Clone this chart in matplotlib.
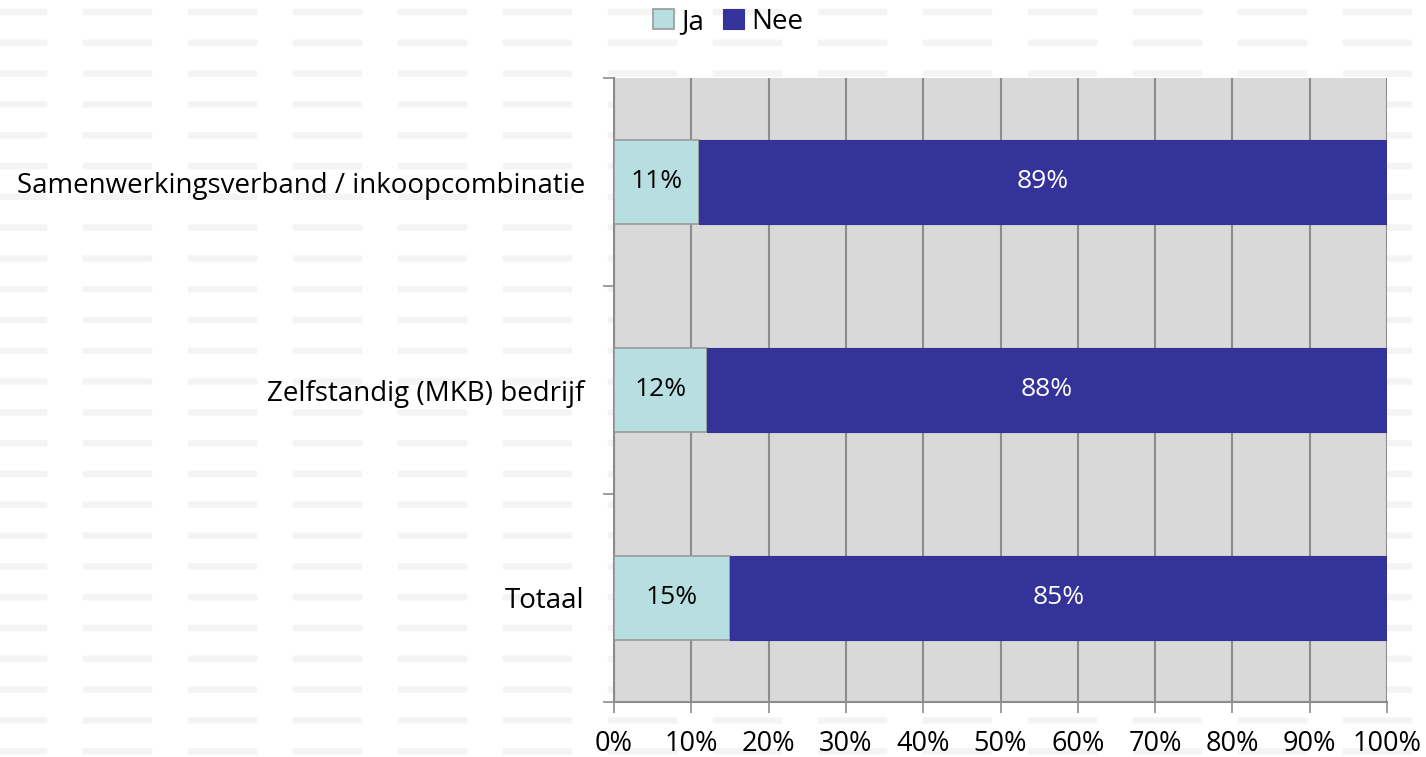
import matplotlib
matplotlib.use("Agg")
import matplotlib.pyplot as plt
from matplotlib.patches import FancyBboxPatch
import numpy as np

categories = ["Samenwerkingsverband / inkoopcombinatie", "Zelfstandig (MKB) bedrijf", "Totaal"]
ja = [11, 12, 15]
nee = [89, 88, 85]
series_names = ["Ja", "Nee"]
x_ticks = [0, 10, 20, 30, 40, 50, 60, 70, 80, 90, 100]

plt.rcParams["font.family"] = ["Open Sans", "DejaVu Sans"]

W, H = 1426, 757
fig = plt.figure(figsize=(W / 100, H / 100), dpi=100)
fig.patch.set_facecolor("white")

# textured backdrop of faint horizontal dashes
bg = fig.add_axes([0, 0, 1, 1], zorder=0)
bg.set_xlim(0, W)
bg.set_ylim(H, 0)
bg.axis("off")
for yc in np.arange(12, H, 30.8):
    for x0 in np.arange(-23, W, 105):
        bg.add_patch(FancyBboxPatch((x0 + 2, yc - 2), 67, 4,
                                    boxstyle="round,pad=1.2",
                                    facecolor="#f4f4f4", edgecolor="none"))

ax = fig.add_axes([614 / W, 1 - 702 / H, (1387 - 614) / W, (702 - 78) / H], zorder=1)
ax.set_facecolor("#d9d9d9")

pos = np.arange(len(categories)) + 0.5
h = 0.4
b1 = ax.barh(pos, ja, height=h, color="#b7dee1", edgecolor="#9a9a9a", linewidth=1.2,
             label=series_names[0], zorder=3)
b2 = ax.barh(pos, nee, left=ja, height=h, color="#333399", edgecolor="#333399", linewidth=0.8,
             label=series_names[1], zorder=3)

for p, a, n in zip(pos, ja, nee):
    ax.text(a / 2, p, f"{a}%", ha="center", va="center", fontsize=19, color="black", zorder=4)
    ax.text(a + n / 2, p, f"{n}%", ha="center", va="center", fontsize=19, color="white", zorder=4)

ax.set_xlim(0, 100)
ax.set_ylim(len(categories), 0)
ax.set_xticks(x_ticks)
ax.set_xticklabels([f"{t}%" for t in x_ticks], fontsize=19.5)
ax.set_yticks(np.arange(len(categories) + 1), minor=False)
ax.set_yticklabels([])
ax.set_yticks(pos, minor=True)
ax.set_yticklabels(categories, minor=True, fontsize=20)
ax.tick_params(axis="y", which="minor", length=0, pad=21)
ax.tick_params(axis="y", which="major", length=8, width=1.2, color="#8c8c8c")
ax.tick_params(axis="x", length=8, width=1.2, color="#8c8c8c", pad=12)

ax.grid(axis="x", color="#8c8c8c", linewidth=1.5, zorder=1)
ax.set_axisbelow(True)
for s in ["top", "right"]:
    ax.spines[s].set_visible(False)
for s in ["left", "bottom"]:
    ax.spines[s].set_color("#8c8c8c")
    ax.spines[s].set_linewidth(1.5)

leg = fig.legend(handles=[b1, b2], loc="center", bbox_to_anchor=(728 / W, 1 - 22 / H),
                 ncol=2, frameon=False, fontsize=20, handlelength=0.75, handleheight=0.75,
                 handletextpad=0.25, columnspacing=0.7)

fig.savefig("out.png", dpi=100)
